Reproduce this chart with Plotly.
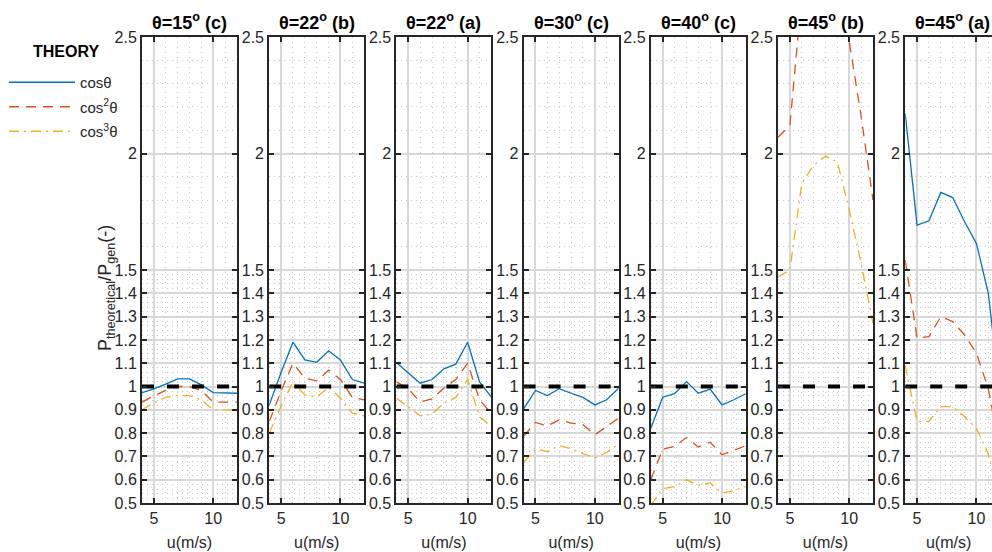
import plotly.graph_objects as go

W, H = 992, 552

# ---------------- data ----------------
u = [4, 5, 6, 7, 8, 9, 10, 11, 12]

titles = ["θ=15<sup>o</sup> (c)", "θ=22<sup>o</sup> (b)", "θ=22<sup>o</sup> (a)",
          "θ=30<sup>o</sup> (c)", "θ=40<sup>o</sup> (c)", "θ=45<sup>o</sup> (b)",
          "θ=45<sup>o</sup> (a)"]

cos1_15c = [0.974, 0.99, 1.01, 1.033, 1.033, 1.007, 0.974, 0.974, 0.971]
cos2_15c = [0.933, 0.96, 0.983, 1.0, 1.0, 0.983, 0.933, 0.933, 0.933]
cos3_15c = [0.90, 0.93, 0.953, 0.961, 0.961, 0.943, 0.90, 0.90, 0.90]

cos1_22b = [0.92, 1.06, 1.19, 1.114, 1.104, 1.153, 1.114, 1.03, 1.014]
cos2_22b = [0.85, 0.98, 1.10, 1.036, 1.024, 1.07, 1.03, 0.953, 0.943]
cos3_22b = [0.80, 0.916, 1.02, 0.964, 0.954, 0.997, 0.95, 0.886, 0.874]

cos1_22a = [1.103, 1.06, 1.014, 1.03, 1.076, 1.096, 1.19, 1.02, 0.954]
cos2_22a = [1.02, 0.99, 0.933, 0.947, 0.993, 1.03, 1.10, 0.943, 0.883]
cos3_22a = [0.95, 0.911, 0.874, 0.881, 0.929, 0.953, 1.03, 0.871, 0.829]

cos1_30c = [0.904, 0.983, 0.961, 0.991, 0.971, 0.953, 0.921, 0.943, 0.993]
cos2_30c = [0.786, 0.846, 0.831, 0.857, 0.843, 0.836, 0.793, 0.829, 0.864]
cos3_30c = [0.674, 0.731, 0.721, 0.746, 0.733, 0.714, 0.693, 0.717, 0.754]

cos1_40c = [0.821, 0.954, 0.969, 1.021, 0.971, 0.989, 0.921, 0.943, 0.969]
cos2_40c = [0.60, 0.731, 0.743, 0.781, 0.74, 0.761, 0.707, 0.726, 0.746]
cos3_40c = [0.49, 0.561, 0.571, 0.60, 0.576, 0.586, 0.543, 0.553, 0.571]

cos1_45b = [2.94, 3.0, 3.75, 3.9, 3.97, 3.93, 3.5, 3.05, 2.56]
cos2_45b = [2.07, 2.12, 2.68, 2.76, 2.81, 2.78, 2.48, 2.16, 1.80]
cos3_45b = [1.47, 1.50, 1.871, 1.95, 1.989, 1.964, 1.757, 1.529, 1.271]

cos1_45a = [2.171, 1.693, 1.711, 1.833, 1.811, 1.707, 1.614, 1.40, 0.95]
cos2_45a = [1.543, 1.207, 1.214, 1.30, 1.279, 1.221, 1.143, 0.99, 0.72]
cos3_45a = [1.09, 0.85, 0.85, 0.914, 0.914, 0.871, 0.82, 0.71, 0.50]

series_cos1 = [cos1_15c, cos1_22b, cos1_22a, cos1_30c, cos1_40c, cos1_45b, cos1_45a]
series_cos2 = [cos2_15c, cos2_22b, cos2_22a, cos2_30c, cos2_40c, cos2_45b, cos2_45a]
series_cos3 = [cos3_15c, cos3_22b, cos3_22a, cos3_30c, cos3_40c, cos3_45b, cos3_45a]

reference_level = [1, 1]

legend_title = "THEORY"
legend_names = ["cosθ", "cos<sup>2</sup>θ", "cos<sup>3</sup>θ"]

ytick_vals = [0.5, 0.6, 0.7, 0.8, 0.9, 1.0, 1.1, 1.2, 1.3, 1.4, 1.5, 2.0, 2.5]
ytick_text = ["0.5", "0.6", "0.7", "0.8", "0.9", "1", "1.1", "1.2", "1.3", "1.4", "1.5", "2", "2.5"]
xtick_vals = [5, 10]
xtick_text = ["5", "10"]

# ---------------- styling ----------------
colors = ["#0072BD", "#D95319", "#EDB120"]
dashes = ["solid", "10px,7px", "10px,5px,2px,5px"]
AX = "#262626"
GRID = "#d8d8d8"
MINOR = "#c8c8c8"
FONT = "Liberation Sans, Arial, sans-serif"

minor_y = [round(0.5 + 0.02 * k, 2) for k in range(51)]
minor_y = [v for v in minor_y if abs(v * 10 - round(v * 10)) > 1e-6]
minor_y += [1.6, 1.7, 1.8, 1.9, 2.1, 2.2, 2.3, 2.4]
minor_x = [4, 6, 7, 8, 9, 11, 12]


def px(xpage):
    return xpage / W


def py(ypage):
    return (H - ypage) / H


left0, step, pw = 142.0, 127.2, 95.0
ybot, ytop = 503.0, 37.0
ydom = [py(ybot), py(ytop)]
px_per_unit = pw / 8.0

fig = go.Figure()
layout = {}
annotations = []

for i in range(7):
    n = i + 1
    xa = "x" if n == 1 else f"x{n}"
    ya = "y" if n == 1 else f"y{n}"
    L = left0 + step * i
    R = min(L + pw, W)
    xmax = 4 + (R - L) / px_per_unit
    for k, (ser, name) in enumerate(zip([series_cos1, series_cos2, series_cos3], legend_names)):
        fig.add_trace(go.Scatter(
            x=u, y=ser[i], mode="lines", name=name,
            line=dict(color=colors[k], width=1.3, dash=dashes[k]),
            showlegend=(i == 0), legendgroup=f"g{k}",
            xaxis=xa, yaxis=ya, hoverinfo="skip"))
    fig.add_trace(go.Scatter(
        x=[u[0], u[-1]], y=reference_level, mode="lines",
        line=dict(color="black", width=4, dash="12px,13px"),
        showlegend=False, xaxis=xa, yaxis=ya, hoverinfo="skip"))

    last = (i == 6)
    layout["xaxis" if n == 1 else f"xaxis{n}"] = dict(
        domain=[px(L), min(px(R), 1.0)], range=[4, xmax], anchor=ya, automargin=False,
        tickmode="array", tickvals=xtick_vals, ticktext=xtick_text,
        ticks="inside", ticklen=5, tickwidth=1.5, tickcolor=AX,
        showline=True, linecolor=AX, linewidth=2, mirror="ticks",
        showgrid=True, gridcolor=GRID, gridwidth=1.5, zeroline=False,
        minor=dict(tickvals=minor_x, showgrid=True, gridcolor=MINOR,
                   griddash="1px,4px", gridwidth=1, ticks=""),
        tickfont=dict(family=FONT, size=16, color=AX),
        title=dict(text="u(m/s)", font=dict(family=FONT, size=16, color=AX), standoff=11),
        fixedrange=True)
    layout["yaxis" if n == 1 else f"yaxis{n}"] = dict(
        domain=ydom, range=[0.5, 2.5], anchor=xa, automargin=False,
        tickmode="array", tickvals=ytick_vals, ticktext=ytick_text,
        ticks="inside", ticklen=5, tickwidth=1.5, tickcolor=AX,
        showline=True, linecolor=AX, linewidth=2,
        mirror=(False if last else "ticks"),
        showgrid=True, gridcolor=GRID, gridwidth=1.5, zeroline=False,
        minor=dict(tickvals=minor_y, showgrid=True, gridcolor=MINOR,
                   griddash="1px,4px", gridwidth=1, ticks=""),
        tickfont=dict(family=FONT, size=16, color=AX),
        fixedrange=True)
    annotations.append(dict(
        text=f"<b>{titles[i]}</b>", xref="paper", yref="paper",
        x=px(L + pw / 2), y=ydom[1], xanchor="center", yanchor="bottom",
        yshift=2, showarrow=False, font=dict(family=FONT, size=18, color="black")))

annotations.append(dict(
    text="P<sub>theoretical</sub>/P<sub>gen</sub>(-)", xref="paper", yref="paper",
    x=px(106), y=py(288), xanchor="center", yanchor="middle",
    textangle=-90, showarrow=False, font=dict(family=FONT, size=18, color=AX)))

annotations.append(dict(
    text=f"<b>{legend_title}</b>", xref="paper", yref="paper",
    x=px(66), y=py(52), xanchor="center", yanchor="middle",
    showarrow=False, font=dict(family=FONT, size=16, color="black")))

fig.update_layout(
    width=W, height=H,
    margin=dict(l=0, r=0, t=0, b=0, autoexpand=False),
    paper_bgcolor="white", plot_bgcolor="white",
    font=dict(family=FONT, color=AX),
    showlegend=True,
    legend=dict(
        x=px(4), y=py(66), xanchor="left", yanchor="top",
        bgcolor="rgba(0,0,0,0)", borderwidth=0,
        font=dict(family=FONT, size=15, color=AX),
        itemwidth=66, tracegroupgap=2),
    annotations=annotations,
    **layout)

fig.write_html("out.html", config={"displayModeBar": False},
               post_script="document.body.style.margin='0px';document.body.style.overflow='hidden';")
